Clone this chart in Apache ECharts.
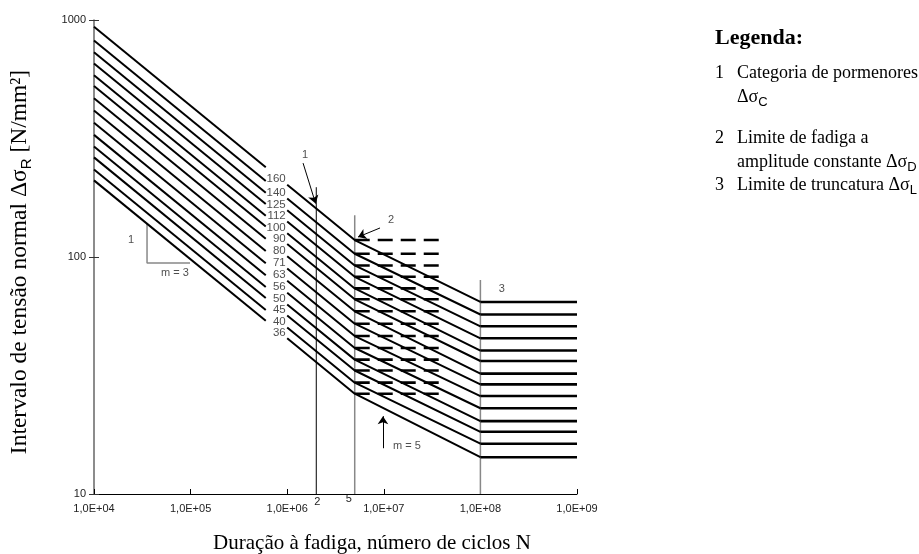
<!DOCTYPE html>
<html><head><meta charset="utf-8">
<script src="https://cdn.jsdelivr.net/npm/echarts@6/dist/echarts.min.js"></script>
<style>html,body{margin:0;padding:0;background:#fff}#c{width:919px;height:554px}</style>
</head><body><div id="c"></div>
<script>
// Detail categories (Δσ_C at 2e6 cycles)
const categories = [160,140,125,112,100,90,80,71,63,56,50,45,40,36];
// Cycle counts of the break points
const N_START = 1e4, N_A_END = 6e5, N_B_START = 1e6, N_C = 2e6, N_D = 5e6, N_DASH_END = 4e7, N_L = 1e8, N_END = 1e9;
// Stress ranges read at those cycle counts
const sStart  = [935.7,818.7,731.0,655.0,584.8,526.3,467.8,415.2,368.4,327.5,292.4,263.2,233.9,210.5];
const sAEnd   = [239.0,209.2,186.8,167.3,149.4,134.5,119.5,106.1,94.1,83.7,74.7,67.2,59.8,53.8];
const sBStart = [201.6,176.4,157.5,141.1,126.0,113.4,100.8,89.5,79.4,70.6,63.0,56.7,50.4,45.4];
const sD      = [117.9,103.2,92.1,82.5,73.7,66.3,59.0,52.3,46.4,41.3,36.9,33.2,29.5,26.5];
const sL      = [64.6,57.2,51.0,45.4,40.3,36.4,32.2,29.0,25.9,23.0,20.3,18.3,16.3,14.3];
// Tick labels
const xTickLabels = ['1,0E+04','1,0E+05','1,0E+06','1,0E+07','1,0E+08','1,0E+09'];
const yTickLabels = {10:'10',100:'100',1000:'1000'};
// Reference vertical lines [N, top value, colour, width]
const vLines = [[N_C,197,'#000',1],[N_D,150,'#888',1.5],[N_L,80,'#888',1.5]];
// Slope triangle m=3
const triangle = [[3.54e4,138],[3.54e4,94.3],[9.86e4,94.3]];
// Arrows [from, to]
const arrows = [
  [[1.46e6,249],[1.97e6,168]],
  [[9.14e6,132.6],[5.41e6,121.4]],
  [[9.8e6,15.6],[9.8e6,21.3]]
];
// Annotation texts
const annot = [
  {name:'1', value:[2.42e4,118], align:'center'},
  {name:'m = 3', value:[6.9e4,85.6], align:'center'},
  {name:'1', value:[1.53e6,269], align:'center'},
  {name:'2', value:[1.187e7,143], align:'center'},
  {name:'3', value:[1.67e8,73.3], align:'center'},
  {name:'m = 5', value:[1.245e7,15.9], align:'left'}
];

const chart = echarts.init(document.getElementById('c'), null, {renderer:'canvas'});
const SANS = 'Liberation Sans, Arial, sans-serif';
const SERIF = 'Liberation Serif, Times New Roman, serif';

const series = [];
categories.forEach((c,i)=>{
  const base = {type:'line', symbol:'none', showSymbol:false, silent:true, animation:false, xAxisIndex:0, yAxisIndex:0, z:3};
  series.push(Object.assign({}, base, {data:[[N_START,sStart[i]],[N_A_END,sAEnd[i]]], lineStyle:{color:'#000', width:2}}));
  series.push(Object.assign({}, base, {data:[[N_B_START,sBStart[i]],[N_D,sD[i]],[N_L,sL[i]]], lineStyle:{color:'#000', width:2}}));
  series.push(Object.assign({}, base, {data:[[N_L,sL[i]],[N_END,sL[i]]], lineStyle:{color:'#000', width:2.6}}));
  series.push(Object.assign({}, base, {data:[[N_D,sD[i]],[N_DASH_END,sD[i]]], lineStyle:{color:'#000', width:2.6, type:[15,8]}}));
});
vLines.forEach(v=>{
  series.push({type:'line', symbol:'none', silent:true, animation:false, z:2,
    data:[[v[0],10],[v[0],v[1]]], lineStyle:{color:v[2], width:v[3]}});
});
series.push({type:'line', symbol:'none', silent:true, animation:false, z:2,
  data: triangle, lineStyle:{color:'#888', width:1.5},
  markLine:{silent:true, animation:false, symbol:['none','arrow'], symbolSize:8,
    label:{show:false}, lineStyle:{color:'#000', width:1, type:'solid'},
    data: arrows.map(a=>[{coord:a[0]},{coord:a[1]}])}
});
// category labels
series.push({type:'scatter', silent:true, animation:false, symbolSize:1, itemStyle:{color:'rgba(0,0,0,0)'}, z:5,
  data: categories.map((c,i)=>({name:String(c), value:[N_A_END,sAEnd[i]]})),
  label:{show:true, position:'inside', formatter:'{b}', align:'right', verticalAlign:'middle',
    offset:[20,12], color:'#222', fontSize:11.5, fontFamily:SANS}
});
// annotation labels
series.push({type:'scatter', silent:true, animation:false, symbolSize:1, itemStyle:{color:'rgba(0,0,0,0)'}, z:5,
  data: annot.map(a=>({name:a.name, value:a.value, label:{align:a.align}})),
  label:{show:true, position:'inside', formatter:'{b}', verticalAlign:'middle',
    color:'#222', fontSize:11, fontFamily:SANS}
});

const yBase = {type:'log', logBase:10, min:10, max:1000, position:'left', splitLine:{show:false}, minorTick:{show:false}};
chart.setOption({
  animation:false,
  grid:{left:94, top:20, width:483, height:474, containLabel:false},
  xAxis:{type:'log', logBase:10, min:N_START, max:N_END, splitNumber:5,
    axisLine:{lineStyle:{color:'#000', width:1}},
    axisTick:{inside:true, length:5, lineStyle:{color:'#000'}},
    axisLabel:{margin:9, color:'#222', fontSize:11, fontFamily:SANS,
      formatter:(v)=>xTickLabels[Math.round(Math.log10(v))-4]},
    splitLine:{show:false}, minorTick:{show:false}},
  yAxis:[
    Object.assign({}, yBase, {
      axisLine:{show:true, lineStyle:{color:'#666', width:1.5}},
      axisTick:{show:true, inside:false, length:5, lineStyle:{color:'#333'}},
      axisLabel:{margin:8, color:'#222', fontSize:11, fontFamily:SANS,
        formatter:(v)=>yTickLabels[Math.round(v)] || ''}}),
    Object.assign({}, yBase, {
      axisLine:{show:false}, axisTick:{show:true, inside:true, length:5, lineStyle:{color:'#333'}},
      axisLabel:{show:false}})
  ],
  series: series
});

const p2 = chart.convertToPixel({gridIndex:0}, [N_C, 10]);
const p5 = chart.convertToPixel({gridIndex:0}, [N_D, 10]);
const subRich = {sub:{fontSize:13, fontFamily:SANS, fill:'#000', verticalAlign:'bottom'}};
function txt(x, y, text, size, opts){
  return Object.assign({type:'text', x:x, y:y, silent:true,
    style:Object.assign({text:text, fontSize:size, fontFamily:SERIF, fill:'#000',
      align:'left', textAlign:'left', verticalAlign:'middle', textVerticalAlign:'middle'}, opts||{})});
}
chart.setOption({graphic:[
  {type:'text', x:p2[0]+1, y:p2[1]+8, silent:true, style:{text:'2', fontSize:11, fontFamily:SANS, fill:'#222', align:'center', textAlign:'center', verticalAlign:'middle', textVerticalAlign:'middle'}},
  {type:'text', x:p5[0]-6, y:p5[1]+5, silent:true, style:{text:'5', fontSize:11, fontFamily:SANS, fill:'#222', align:'center', textAlign:'center', verticalAlign:'middle', textVerticalAlign:'middle'}},
  // axis titles
  txt(372, 543, 'Duração à fadiga, número de ciclos N', 21, {align:'center', textAlign:'center'}),
  Object.assign(txt(20, 262, 'Intervalo de tensão normal Δσ{sub|R} [N/mm²]', 23.5,
    {align:'center', textAlign:'center', lineHeight:28, rich:{sub:{fontSize:15, fontFamily:SANS, fill:'#000', verticalAlign:'bottom'}}}), {rotation:Math.PI/2}),
  // legend
  txt(715, 38, 'Legenda:', 22, {fontWeight:'bold'}),
  txt(715, 73, '1', 18),
  txt(737, 73, 'Categoria de pormenores', 18),
  txt(737, 97, 'Δσ{sub|C}', 18, {lineHeight:23, rich:subRich}),
  txt(715, 138, '2', 18),
  txt(737, 138, 'Limite de fadiga a', 18),
  txt(737, 162, 'amplitude constante Δσ{sub|D}', 18, {lineHeight:23, rich:subRich}),
  txt(715, 185, '3', 18),
  txt(737, 185, 'Limite de truncatura Δσ{sub|L}', 18, {lineHeight:23, rich:subRich})
]});
</script>
</body></html>
